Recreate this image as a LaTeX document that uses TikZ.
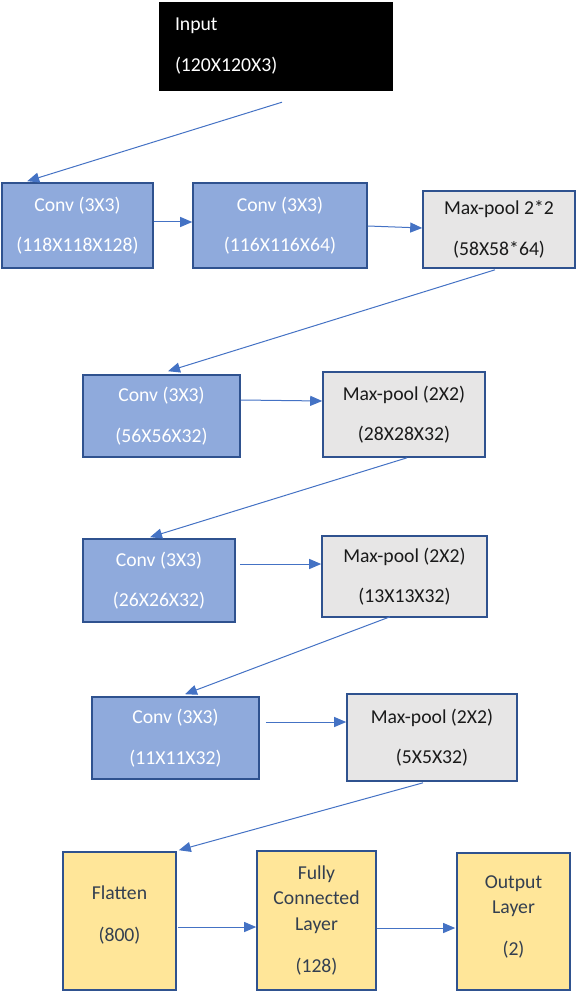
\documentclass[tikz,border=0pt]{standalone}
\usepackage{fontspec}
\setmainfont{Carlito}
\usetikzlibrary{arrows.meta,calc}
\definecolor{convfill}{HTML}{8FAADC}
\definecolor{edgeblue}{HTML}{2F528F}
\definecolor{poolfill}{HTML}{E7E6E6}
\definecolor{densefill}{HTML}{FFE699}
\definecolor{arrowblue}{HTML}{4472C4}
\definecolor{pooltext}{HTML}{1A1A1A}
\definecolor{densetext}{HTML}{333F50}
\tikzset{
  blk/.style={rectangle, draw=edgeblue, line width=1.6pt, inner sep=0pt, align=center,
    font=\fontsize{19.7}{40.5}\selectfont},
  convbox/.style={blk, fill=convfill, text=white},
  poolbox/.style={blk, fill=poolfill, text=pooltext},
  densebox/.style={blk, fill=densefill, text=densetext, font=\fontsize{19.7}{25.5}\selectfont},
  inbox/.style={rectangle, fill=black, draw=none, text=white, align=left, inner xsep=16pt, inner ysep=0pt,
    font=\fontsize{19.7}{41}\selectfont},
  link/.style={draw=arrowblue, line width=1pt, -{Triangle[length=12pt,width=10pt]}}
}
\begin{document}
\begin{tikzpicture}[x=1pt,y=-1pt]
\useasboundingbox (0,0) rectangle (580,992);
\node[inbox, text width=202pt, minimum height=89pt] (input) at (276,46.5) {Input\\(120X120X3)};
\node[convbox, minimum width=151pt, minimum height=85pt] (conv1) at (77.5,225.5) {Conv (3X3)\\(118X118X128)};
\node[convbox, minimum width=174pt, minimum height=85pt] (conv2) at (280,225.5) {Conv (3X3)\\(116X116X64)};
\node[poolbox, minimum width=152pt, minimum height=77pt] (mp1) at (499,229.5) {Max-pool 2*2\\(58X58*64)};
\node[convbox, minimum width=157pt, minimum height=82pt] (conv3) at (161.5,416) {Conv (3X3)\\(56X56X32)};
\node[poolbox, minimum width=162pt, minimum height=85pt] (mp2) at (404,414.5) {Max-pool (2X2)\\(28X28X32)};
\node[convbox, minimum width=152pt, minimum height=83pt] (conv4) at (159,580.5) {Conv (3X3)\\(26X26X32)};
\node[poolbox, minimum width=165pt, minimum height=81pt] (mp3) at (404.5,576.5) {Max-pool (2X2)\\(13X13X32)};
\node[convbox, minimum width=167pt, minimum height=82pt] (conv5) at (175.5,738) {Conv (3X3)\\(11X11X32)};
\node[poolbox, minimum width=170pt, minimum height=87pt] (mp4) at (432,737.5) {Max-pool (2X2)\\(5X5X32)};
\node[densebox, minimum width=113pt, minimum height=138pt, text depth=14pt] (flat) at (119.5,921) {Flatten\\[16.5pt](800)};
\node[densebox, minimum width=119pt, minimum height=139pt] (fc) at (316.5,920.5) {Fully\\Connected\\Layer\\[16.5pt](128)};
\node[densebox, minimum width=113pt, minimum height=137pt, text depth=12pt] (out) at (513.5,921.5) {Output\\Layer\\[16.5pt](2)};
\draw[link] ($(input.south)+(6,11)$) -- ($(conv1.north west)+(26,-1)$);
\draw[link] ($(conv1.east)+(0,-3.5)$) -- ($(conv2.west)+(0,-3.5)$);
\draw[link] ($(conv2.east)+(0,0.5)$) -- ($(mp1.west)+(0,-1.5)$);
\draw[link] ($(mp1.south)+(-4,1)$) -- ($(conv3.north)+(6.5,-3)$);
\draw[link] ($(conv3.east)+(0,-16)$) -- ($(mp2.west)+(0,-13.5)$);
\draw[link] ($(mp2.south)+(3,0)$) -- ($(conv4.north)+(-9,-1)$);
\draw[link] ($(conv4.east)+(4,-16.5)$) -- ($(mp3.west)+(0,-12.5)$);
\draw[link] ($(mp3.south)+(-14.5,-1)$) -- ($(conv5.north)+(9.5,-2)$);
\draw[link] ($(conv5.east)+(6,-16)$) -- ($(mp4.west)+(0,-15.5)$);
\draw[link] ($(mp4.south)+(-9,1)$) -- ($(flat.north east)+(2,-1)$);
\draw[link] ($(flat.east)+(1,6)$) -- ($(fc.west)+(0,6.5)$);
\draw[link] ($(fc.east)+(0,7.5)$) -- ($(out.west)+(-1,6.5)$);
\end{tikzpicture}
\end{document}
